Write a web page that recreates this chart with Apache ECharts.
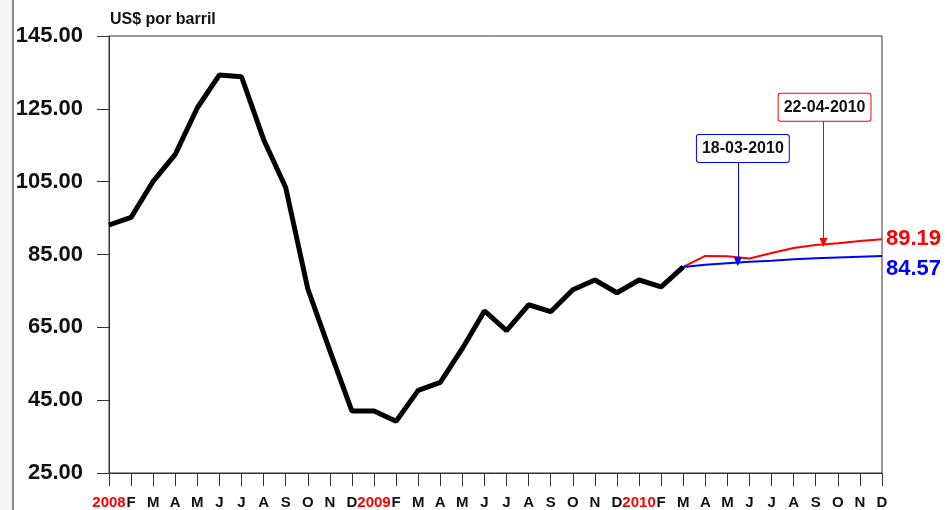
<!DOCTYPE html>
<html><head><meta charset="utf-8">
<script src="https://cdn.jsdelivr.net/npm/echarts@6/dist/echarts.min.js"></script>
<style>html,body{margin:0;padding:0;background:#fff}#c{width:947px;height:510px}</style>
</head><body><div id="c"></div>
<script>
const monthLabels = ['2008','F','M','A','M','J','J','A','S','O','N','D',
  '2009','F','M','A','M','J','J','A','S','O','N','D',
  '2010','F','M','A','M','J','J','A','S','O','N','D'];
const yearLabels = ['2008','2009','2010'];
const yTicks = [25, 45, 65, 85, 105, 125, 145];
// Monthly price, Jan 2008 - Mar 2010
const historical = [93.1, 95.2, 105.1, 112.5, 125.3, 134.3, 133.8, 116.6, 103.4, 75.6, 58.6, 42.0,
  42.0, 39.2, 47.7, 49.9, 59.2, 69.5, 64.1, 71.2, 69.3, 75.3, 78.0, 74.5,
  78.0, 76.1, 81.6];
// Forward curves, Mar 2010 - Dec 2010
const forecastApr22 = [81.6, 84.6, 84.5, 83.9, 85.4, 86.8, 87.6, 88.1, 88.7, 89.19];
const forecastMar18 = [81.6, 82.2, 82.6, 83.0, 83.3, 83.7, 84.0, 84.2, 84.4, 84.57];
const forecastStart = 26;

const hist = historical.map((v, i) => [i, v]);
const red = forecastApr22.map((v, i) => [forecastStart + i, v]);
const blue = forecastMar18.map((v, i) => [forecastStart + i, v]);

const chart = echarts.init(document.getElementById('c'));
const FONT = '"Liberation Sans", Arial, sans-serif';
function boxLabel(text, color) {
  return { show: true, position: 'inside', formatter: text, color: '#111',
    fontFamily: FONT, fontSize: 16, fontWeight: 'bold',
    backgroundColor: '#fff', borderColor: color, borderWidth: 1, borderRadius: 2,
    padding: [6, 5, 5, 5] };
}
chart.setOption({
  animation: false,
  backgroundColor: '#fff',
  title: {
    text: 'US$ por barril', left: 110, top: 12, padding: 0,
    textStyle: { fontFamily: FONT, fontSize: 16, fontWeight: 'bold', color: '#111' }
  },
  grid: { left: 109, right: 65, top: 36, bottom: 35, show: true, borderColor: '#333', borderWidth: 1 },
  xAxis: {
    type: 'value', min: 0, max: monthLabels.length - 1, interval: 1,
    splitLine: { show: false },
    axisLine: { lineStyle: { color: '#333' } },
    axisTick: { length: 13, lineStyle: { color: '#333' } },
    axisLabel: {
      margin: 22, fontFamily: FONT, fontSize: 15, fontWeight: 'bold', color: '#111',
      formatter: v => {
        const t = monthLabels[Math.round(v)] || '';
        return yearLabels.includes(t) ? '{y|' + t + '}' : t;
      },
      rich: { y: { color: '#ff0000', fontFamily: FONT, fontSize: 15, fontWeight: 'bold' } }
    }
  },
  yAxis: {
    type: 'value', min: yTicks[0], max: yTicks[yTicks.length - 1], interval: 20,
    splitLine: { show: false },
    axisLine: { show: true, lineStyle: { color: '#333' } },
    axisTick: { show: true, length: 12, lineStyle: { color: '#333' } },
    axisLabel: {
      margin: 26, fontFamily: FONT, fontSize: 22, fontWeight: 'bold', color: '#111',
      formatter: v => v.toFixed(2)
    }
  },
  graphic: [
    { type: 'rect', shape: { x: 0, y: 0, width: 12, height: 510 }, style: { fill: '#f4f4f4' }, z: -1 },
    { type: 'line', shape: { x1: 13, y1: 0, x2: 13, y2: 510 }, style: { stroke: '#888', lineWidth: 2 } }
  ],
  series: [
    {
      type: 'line', data: hist, symbol: 'none', z: 3,
      lineStyle: { color: '#000', width: 5 }
    },
    {
      type: 'line', data: red, symbol: 'none', z: 2,
      lineStyle: { color: '#ff0000', width: 2 },
      endLabel: { show: true, formatter: p => p.value[1].toFixed(2), color: '#ff0000',
        fontFamily: FONT, fontSize: 22, fontWeight: 'bold', distance: 4 },
      markLine: {
        silent: true, symbol: ['none', 'triangle'], symbolSize: [8, 9],
        lineStyle: { color: '#ff0000', width: 1, type: 'solid' }, label: { show: false },
        data: [[{ coord: [32.35, 121.8] }, { coord: [32.35, 88.3] }]]
      },
      markPoint: {
        silent: true,
        data: [{ coord: [32.4, 125.45], symbol: 'rect', symbolSize: 1,
          itemStyle: { color: 'rgba(0,0,0,0)' }, label: boxLabel('22-04-2010', '#ff0000') }]
      }
    },
    {
      type: 'line', data: blue, symbol: 'none', z: 2,
      lineStyle: { color: '#0000ff', width: 2 },
      endLabel: { show: true, formatter: p => p.value[1].toFixed(2), color: '#0000ff',
        fontFamily: FONT, fontSize: 22, fontWeight: 'bold', distance: 4, offset: [0, 13] },
      markLine: {
        silent: true, symbol: ['none', 'triangle'], symbolSize: [8, 9],
        lineStyle: { color: '#0000ff', width: 1, type: 'solid' }, label: { show: false },
        data: [[{ coord: [28.47, 110.3] }, { coord: [28.47, 83.0] }]]
      },
      markPoint: {
        silent: true,
        data: [{ coord: [28.7, 114.1], symbol: 'rect', symbolSize: 1,
          itemStyle: { color: 'rgba(0,0,0,0)' }, label: boxLabel('18-03-2010', '#0000ff') }]
      }
    }
  ]
});
</script>
</body></html>
